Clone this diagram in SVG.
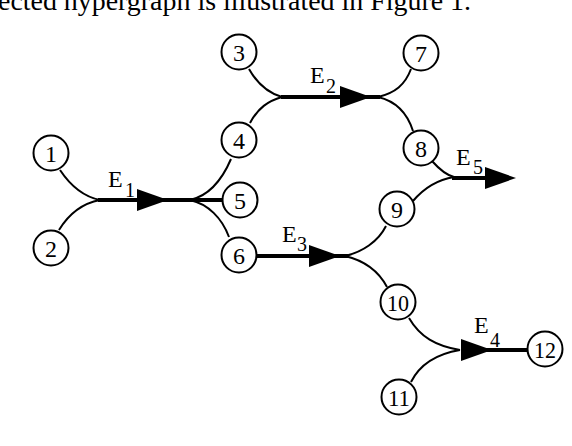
<svg xmlns="http://www.w3.org/2000/svg" width="572" height="446" viewBox="0 0 572 446">
<style>
.node circle{fill:#fff;stroke:#000;stroke-width:2}
.node text{font-family:"Liberation Serif","Times New Roman",serif;font-size:24px;text-anchor:middle;fill:#000}
.thin{fill:none;stroke:#000;stroke-width:2}
.thick{fill:none;stroke:#000;stroke-width:4}
.lab{font-family:"Liberation Serif","Times New Roman",serif;font-size:24px;fill:#000}
.sub{font-size:20px}
.cap{font-family:"Liberation Serif","Times New Roman",serif;font-size:28px;fill:#000}
</style>
<defs>
<path id="ah" d="M0,-11 L31,0 L0,11 Z" fill="#000"/>
</defs>
<rect width="572" height="446" fill="#fff"/>
<text class="cap" x="-2" y="9.5" textLength="473" lengthAdjust="spacingAndGlyphs">ected hypergraph is illustrated in Figure 1.</text>
<g id="connectors">
<path class="thin" d="M60,170 C72,188 85,197 100,200"/>
<path class="thin" d="M59,230 C70,212 84,203 100,200"/>
<path class="thick" d="M98,200 H223"/>
<use href="#ah" x="137" y="200"/>
<path class="thin" d="M190,200 C208,196 222,180 231,159"/>
<path class="thin" d="M190,200 C208,204 222,218 229,237"/>
<path class="thin" d="M249,69 C258,85 268,93 282,97"/>
<path class="thin" d="M250,123 C258,108 268,101 282,97"/>
<path class="thick" d="M281,97 H380"/>
<use href="#ah" x="340" y="97"/>
<path class="thin" d="M378,97 C395,93 405,85 411,69"/>
<path class="thin" d="M378,97 C395,101 407,112 413,131"/>
<path class="thick" d="M256,256 H348"/>
<use href="#ah" x="309" y="256"/>
<path class="thin" d="M345,256 C362,252 378,242 386,226"/>
<path class="thin" d="M345,256 C362,260 378,270 387,287"/>
<path class="thin" d="M432,161 C440,170 446,175 454,177"/>
<path class="thin" d="M413,201 C424,188 436,180 454,177"/>
<path class="thick" d="M452,178 H490"/>
<use href="#ah" x="485" y="178"/>
<path class="thin" d="M409,318 C420,337 436,346 460,350"/>
<path class="thin" d="M411,382 C420,364 436,354 460,350"/>
<path class="thick" d="M470,350 H528"/>
<use href="#ah" x="461" y="350"/>
</g>
<g id="labels">
<text class="lab" x="108" y="187">E<tspan class="sub" x="125" y="197">1</tspan></text>
<text class="lab" x="310" y="83">E<tspan class="sub" x="326" y="93">2</tspan></text>
<text class="lab" x="282" y="242">E<tspan class="sub" x="297" y="251">3</tspan></text>
<text class="lab" x="474" y="333">E<tspan class="sub" x="490" y="347">4</tspan></text>
<text class="lab" x="456" y="165">E<tspan class="sub" x="473" y="174">5</tspan></text>
</g>
<g id="n1" class="node"><circle cx="51" cy="153" r="17.5"/><text x="51" y="161.5">1</text></g>
<g id="n2" class="node"><circle cx="51" cy="248" r="17.5"/><text x="51" y="256.5">2</text></g>
<g id="n3" class="node"><circle cx="239" cy="52" r="17.5"/><text x="239" y="60.5">3</text></g>
<g id="n4" class="node"><circle cx="239" cy="140" r="17.5"/><text x="239" y="148.5">4</text></g>
<g id="n5" class="node"><circle cx="240" cy="200" r="17.5"/><text x="240" y="208.5">5</text></g>
<g id="n6" class="node"><circle cx="239" cy="255" r="17.5"/><text x="239" y="263.5">6</text></g>
<g id="n7" class="node"><circle cx="421" cy="53" r="17.5"/><text x="421" y="61.5">7</text></g>
<g id="n8" class="node"><circle cx="421" cy="148" r="17.5"/><text x="421" y="156.5">8</text></g>
<g id="n9" class="node"><circle cx="397" cy="209" r="17.5"/><text x="397" y="217.5">9</text></g>
<g id="n10" class="node"><circle cx="398" cy="302" r="17.5"/><text x="398" y="310.5" textLength="22" lengthAdjust="spacingAndGlyphs">10</text></g>
<g id="n11" class="node"><circle cx="399" cy="397" r="17.5"/><text x="399" y="405.5" textLength="22" lengthAdjust="spacingAndGlyphs">11</text></g>
<g id="n12" class="node"><circle cx="545" cy="349" r="17.5"/><text x="545" y="357.5" textLength="22" lengthAdjust="spacingAndGlyphs">12</text></g>
</svg>
